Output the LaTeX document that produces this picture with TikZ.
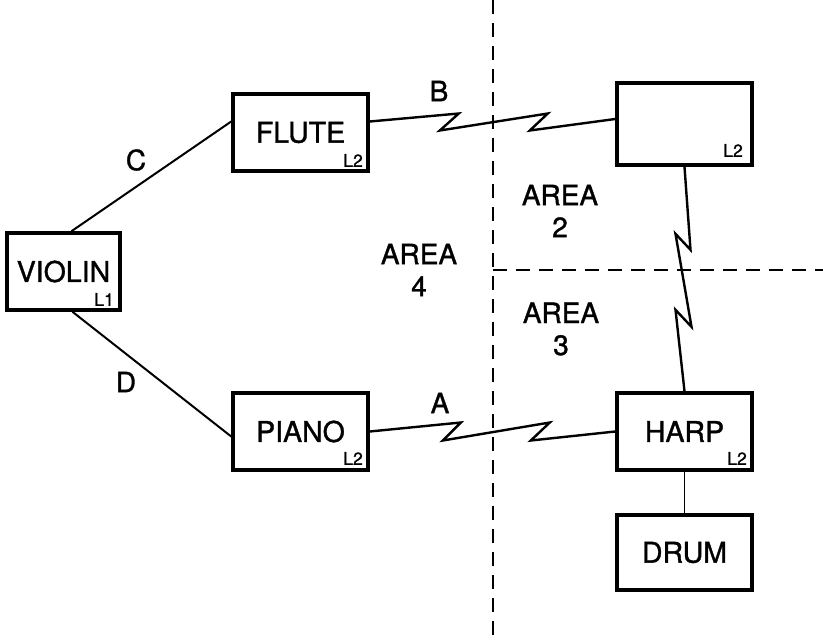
\documentclass[tikz,border=0pt]{standalone}
\usepackage{fontspec}
\setmainfont[FakeBold=1.2]{TeX Gyre Heros}
\begin{document}
\begin{tikzpicture}[x=1pt, y=-1pt, line width=2pt,
  box/.style={draw, line width=3.6pt, minimum width=135pt, minimum height=77pt,
    inner sep=0pt, font=\fontsize{28.5pt}{28.5pt}\selectfont},
  lvl/.style={inner sep=0pt, anchor=south east, font=\fontsize{17.5pt}{17.5pt}\selectfont},
  lab/.style={inner sep=0pt, align=center, font=\fontsize{28pt}{32pt}\selectfont},
  border/.style={line width=2pt, dash pattern=on 14pt off 9pt}]
\useasboundingbox (0,0) rectangle (823,641);

% the stations
\node[box, minimum width=113pt] (violin) at (63.5,271.5) {VIOLIN};
\node[box] (flute) at (300.5,132.5) {FLUTE};
\node[box, minimum height=82pt] (remote) at (684.5,124) {};
\node[box] (piano) at (300.5,431.5) {PIANO};
\node[box] (harp) at (684.5,431.5) {HARP};
\node[box, minimum height=75pt] (drum) at (684.5,552.5) {DRUM};

\node[lvl] (lvviolin) at ([xshift=-7pt,yshift=5pt]violin.south east) {L1};
\node[lvl] (lvflute) at ([xshift=-6pt,yshift=5pt]flute.south east) {L2};
\node[lvl] (lvremote) at ([xshift=-10pt,yshift=9pt]remote.south east) {L2};
\node[lvl] (lvpiano) at ([xshift=-6pt,yshift=6pt]piano.south east) {L2};
\node[lvl] (lvharp) at ([xshift=-6pt,yshift=6pt]harp.south east) {L2};

% area borders
\coordinate (vtop) at (493,0);
\coordinate (vbot) at (493,641);
\coordinate (hleft) at (493,270);
\coordinate (hright) at (823,270);
\draw[border] (vtop) -- (vbot);
\draw[border] (hleft) -- (hright);

% links
\draw ([xshift=8pt]violin.north) -- ([yshift=11pt]flute.west);
\draw ([xshift=9pt]violin.south) -- ([yshift=-5pt]piano.west);
\draw[line width=2.4pt] ([yshift=11pt]flute.east) -- ++(89,-8) -- ++(-19,17) -- ++(108,-17)
  -- ++(-18,17) -- ([yshift=5pt]remote.west);
\draw[line width=2.4pt] (piano.east) -- ++(91,-9) -- ++(-18,18) -- ++(107,-18)
  -- ++(-19,18) -- (harp.west);
\draw[line width=2.4pt] (remote.south) -- ++(6,83) -- ++(-15,-16) -- ++(16,93)
  -- ++(-16,-17) -- (harp.north);
\draw[line width=1.6pt] (harp.south) -- (drum.north);

% labels
\node[lab] (labC) at (136,160) {C};
\node[lab] (labD) at (126,382) {D};
\node[lab] (labB) at (439,91) {B};
\node[lab] (labA) at (440,403) {A};
\node[lab] (area2) at (560,211) {AREA\\2};
\node[lab] (area4) at (419,270) {AREA\\4};
\node[lab] (area3) at (561,329) {AREA\\3};
\end{tikzpicture}
\end{document}
